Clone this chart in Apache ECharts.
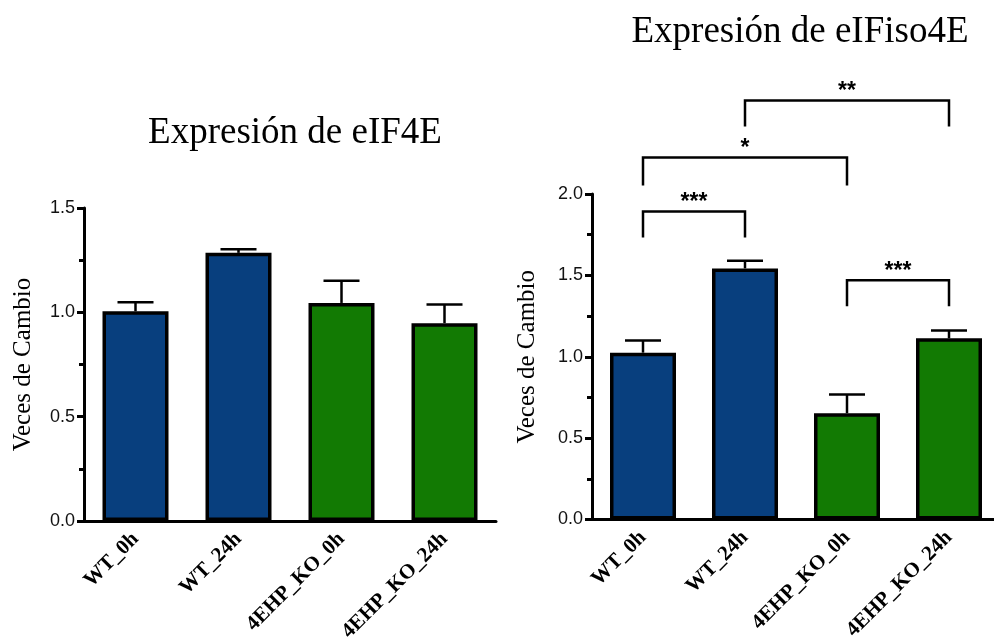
<!DOCTYPE html>
<html>
<head>
<meta charset="utf-8">
<script src="https://cdn.jsdelivr.net/npm/echarts@6/dist/echarts.min.js"></script>
<style>html,body{margin:0;padding:0;background:#fff}#c{width:994px;height:641px}</style>
</head>
<body>
<div id="c"></div>
<script>
const categories = ['WT_0h', 'WT_24h', '4EHP_KO_0h', '4EHP_KO_24h'];
const eif4eMeans = [1.005, 1.285, 1.045, 0.948];
const eif4eErr = [0.043, 0.017, 0.106, 0.090];
const eifiso4eMeans = [1.025, 1.543, 0.653, 1.113];
const eifiso4eErr = [0.075, 0.047, 0.115, 0.049];
const barColors = ['#083f7e', '#083f7e', '#127a03', '#127a03'];
const leftTicks = [0, 0.5, 1.0, 1.5];
const rightTicks = [0, 0.5, 1.0, 1.5, 2.0];
// [fromIndex, toIndex, bracketTop, bracketLegBottom, label]
const sigBrackets = [
  [0, 1, 1.892, 1.732, '***'],
  [2, 3, 1.470, 1.310, '***'],
  [0, 2, 2.225, 2.052, '*'],
  [1, 3, 2.574, 2.414, '**']
];

const chart = echarts.init(document.getElementById('c'), null, {renderer: 'canvas'});
const serif = '"Liberation Serif", "Times New Roman", serif';
const sans = '"Liberation Sans", Arial, sans-serif';

function xAxisCfg(gi) {
  return {
    type: 'category', gridIndex: gi, data: categories,
    axisLine: {lineStyle: {color: '#000', width: 3}},
    axisTick: {alignWithLabel: true, length: 8, lineStyle: {color: '#000', width: 3}},
    axisLabel: {rotate: 45, margin: 15, color: '#000', fontFamily: serif, fontWeight: 'bold', fontSize: 21, interval: 0}
  };
}
function yAxisCfg(gi, max, gap) {
  return {
    type: 'value', gridIndex: gi, min: 0, max: max, interval: 0.5,
    name: 'Veces de Cambio', nameLocation: 'middle', nameGap: gap,
    nameTextStyle: {fontFamily: serif, fontSize: 25, color: '#000'},
    axisLine: {show: true, lineStyle: {color: '#000', width: 3}},
    axisTick: {show: true, length: 7, lineStyle: {color: '#000', width: 3}},
    minorTick: {show: true, splitNumber: 2, length: 5, lineStyle: {color: '#000', width: 3}},
    splitLine: {show: false},
    axisLabel: {margin: 9, color: '#111', fontFamily: sans, fontSize: 18, formatter: v => v.toFixed(1)}
  };
}
function barSeries(gi, means) {
  return {
    type: 'bar', xAxisIndex: gi, yAxisIndex: gi, barWidth: 66,
    data: means.map((v, i) => ({value: v, itemStyle: {color: barColors[i]}})),
    itemStyle: {borderColor: '#000', borderWidth: 3.5},
    z: 3
  };
}
function errSeries(gi, means, errs) {
  return {
    type: 'custom', xAxisIndex: gi, yAxisIndex: gi, z: 2,
    data: means.map((m, i) => [i, m, m + errs[i]]),
    renderItem: function (params, api) {
      const b = api.coord([api.value(0), api.value(1)]);
      const t = api.coord([api.value(0), api.value(2)]);
      const st = {stroke: '#000', lineWidth: 2.5};
      return {type: 'group', children: [
        {type: 'line', shape: {x1: b[0], y1: b[1], x2: t[0], y2: t[1]}, style: st},
        {type: 'line', shape: {x1: t[0] - 18, y1: t[1], x2: t[0] + 18, y2: t[1]}, style: st}
      ]};
    }
  };
}

const option = {
  animation: false,
  backgroundColor: '#fff',
  title: [
    {text: 'Expresión de eIF4E', left: 290, top: 110, textAlign: 'center',
     textStyle: {fontFamily: serif, fontSize: 37, fontWeight: 'normal', color: '#000'}},
    {text: 'Expresión de eIFiso4E', left: 795, top: 9, textAlign: 'center',
     textStyle: {fontFamily: serif, fontSize: 37, fontWeight: 'normal', color: '#000'}}
  ],
  grid: [
    {left: 84, top: 208, width: 412, bottom: 120, containLabel: false, outerBoundsMode: 'none'},
    {left: 592, top: 194, width: 408, bottom: 121.5, containLabel: false, outerBoundsMode: 'none'}
  ],
  xAxis: [xAxisCfg(0), xAxisCfg(1)],
  yAxis: [yAxisCfg(0, 1.5, 48), yAxisCfg(1, 2.0, 52)],
  series: [
    barSeries(0, eif4eMeans),
    errSeries(0, eif4eMeans, eif4eErr),
    barSeries(1, eifiso4eMeans),
    errSeries(1, eifiso4eMeans, eifiso4eErr),
    {
      type: 'custom', xAxisIndex: 1, yAxisIndex: 1, clip: false, z: 5,
      data: sigBrackets.map(b => [b[0], b[1], b[2], b[3], b[4]]),
      renderItem: function (params, api) {
        const b = sigBrackets[params.dataIndex];
        const p1 = api.coord([b[0], b[2]]);
        const p2 = api.coord([b[1], b[2]]);
        const l1 = api.coord([b[0], b[3]]);
        const l2 = api.coord([b[1], b[3]]);
        return {type: 'group', children: [
          {type: 'polyline', shape: {points: [[l1[0], l1[1]], [p1[0], p1[1]], [p2[0], p2[1]], [l2[0], l2[1]]]},
           style: {stroke: '#000', lineWidth: 2.5, fill: null}},
          {type: 'text', style: {text: b[4], x: (p1[0] + p2[0]) / 2, y: p1[1] + 3, align: 'center', verticalAlign: 'bottom',
           font: 'bold 23px "Liberation Sans", Arial, sans-serif', fill: '#000'}}
        ]};
      }
    }
  ]
};
chart.setOption(option);
</script>
</body>
</html>
